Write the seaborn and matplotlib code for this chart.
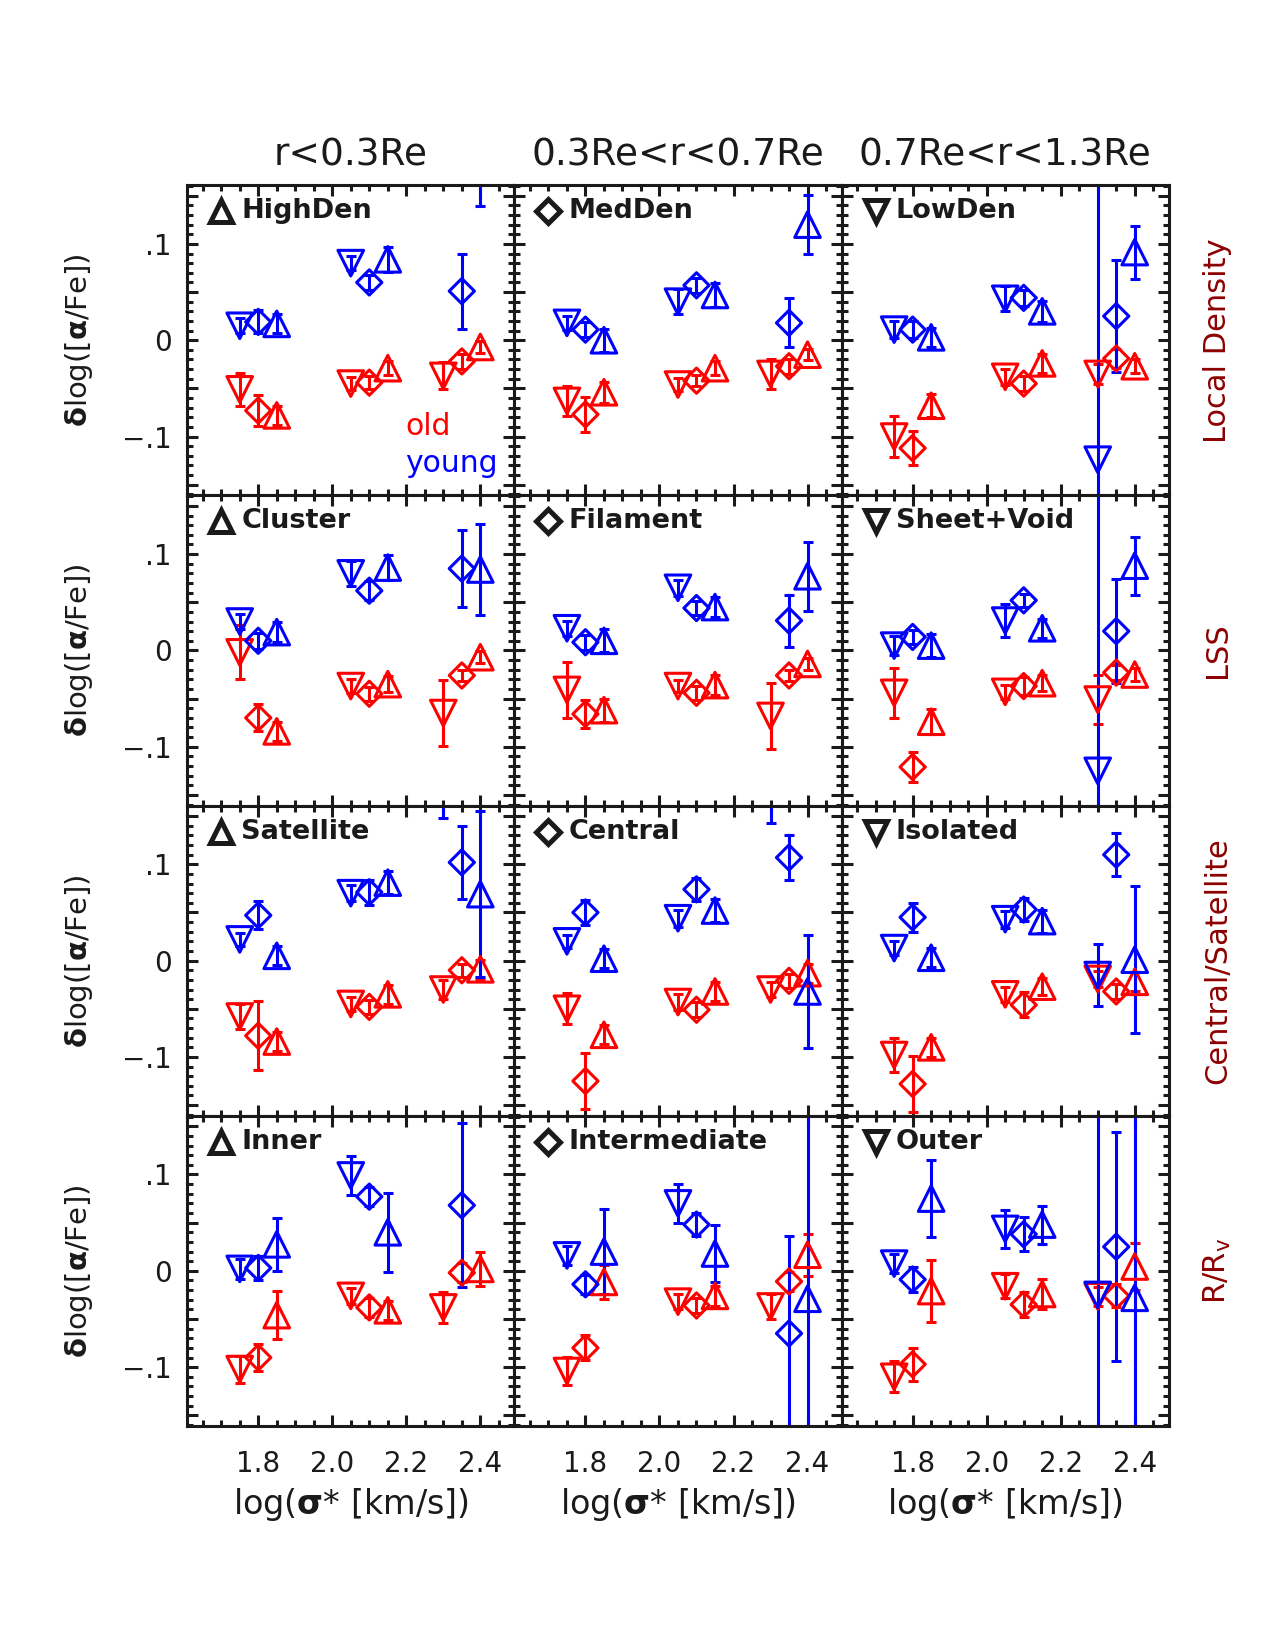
import numpy as np
import matplotlib
matplotlib.use("Agg")
import matplotlib.pyplot as plt
import seaborn as sns
from matplotlib.ticker import MultipleLocator, FuncFormatter

# ---------------- data ----------------
sigma_bins = [1.80, 2.10, 2.35]
marker_offsets = [-0.05, 0.0, 0.05]          # down-triangle, diamond, up-triangle
col_titles = ["r<0.3Re", "0.3Re<r<0.7Re", "0.7Re<r<1.3Re"]
row_titles = ["Local Density", "LSS", "Central/Satellite", r"R/R$_\mathregular{v}$"]
panel_labels = [["HighDen", "MedDen", "LowDen"],
                ["Cluster", "Filament", "Sheet+Void"],
                ["Satellite", "Central", "Isolated"],
                ["Inner", "Intermediate", "Outer"]]
nan = np.nan

# each array: [column][marker(down, diamond, up)][sigma bin]
density_old = [
    [[-0.051, -0.045, -0.037], [-0.073, -0.044, -0.022], [-0.078, -0.029, -0.007]],
    [[-0.063, -0.046, -0.035], [-0.077, -0.042, -0.027], [-0.054, -0.029, -0.015]],
    [[-0.100, -0.038, -0.035], [-0.112, -0.045, -0.019], [-0.068, -0.024, -0.027]]]
density_old_err = [
    [[0.0175, 0.007, 0.014], [0.016, 0.007, 0.008], [0.010, 0.007, 0.006]],
    [[0.016, 0.007, 0.016], [0.018, 0.006, 0.008], [0.011, 0.007, 0.006]],
    [[0.021, 0.008, 0.010], [0.018, 0.008, 0.010], [0.012, 0.010, 0.007]]]
density_young = [
    [[0.015, 0.080, nan], [0.019, 0.060, 0.051], [0.017, 0.084, 0.185]],
    [[0.018, 0.040, nan], [0.011, 0.057, 0.018], [0.000, 0.047, 0.120]],
    [[0.011, 0.043, -0.124], [0.011, 0.044, 0.025], [0.003, 0.030, 0.0915]]]
density_young_err = [
    [[0.008, 0.007, nan], [0.012, 0.008, 0.039], [0.010, 0.013, 0.046]],
    [[0.007, 0.013, nan], [0.008, 0.008, 0.0255], [0.012, 0.012, 0.031]],
    [[0.009, 0.013, 0.5], [0.009, 0.008, 0.058], [0.010, 0.011, 0.0275]]]

lss_old = [
    [[-0.002, -0.037, -0.065], [-0.070, -0.045, -0.026], [-0.084, -0.035, -0.007]],
    [[-0.041, -0.037, -0.068], [-0.066, -0.044, -0.026], [-0.062, -0.036, -0.014]],
    [[-0.044, -0.043, -0.051], [-0.121, -0.037, -0.023], [-0.074, -0.034, -0.025]]]
lss_old_err = [
    [[0.028, 0.007, 0.034], [0.014, 0.007, 0.006], [0.010, 0.008, 0.006]],
    [[0.029, 0.006, 0.034], [0.015, 0.007, 0.006], [0.012, 0.010, 0.006]],
    [[0.026, 0.007, 0.025], [0.016, 0.009, 0.008], [0.013, 0.008, 0.007]]]
lss_young = [
    [[0.030, 0.080, nan], [0.010, 0.062, 0.085], [0.019, 0.086, 0.084]],
    [[0.023, 0.065, nan], [0.0085, 0.044, 0.031], [0.010, 0.045, 0.077]],
    [[0.005, 0.031, -0.125], [0.014, 0.052, 0.020], [0.005, 0.023, 0.088]]]
lss_young_err = [
    [[0.008, 0.013, nan], [0.008, 0.010, 0.040], [0.010, 0.013, 0.047]],
    [[0.008, 0.008, nan], [0.008, 0.007, 0.027], [0.012, 0.010, 0.036]],
    [[0.010, 0.017, 0.5], [0.007, 0.007, 0.054], [0.012, 0.010, 0.030]]]

censat_old = [
    [[-0.058, -0.045, -0.030], [-0.078, -0.048, -0.010], [-0.084, -0.035, -0.009]],
    [[-0.050, -0.043, -0.030], [-0.125, -0.051, -0.021], [-0.077, -0.032, -0.013]],
    [[-0.098, -0.035, -0.019], [-0.128, -0.046, -0.032], [-0.090, -0.027, -0.022]]]
censat_old_err = [
    [[0.013, 0.007, 0.010], [0.036, 0.007, 0.007], [0.010, 0.010, 0.010]],
    [[0.016, 0.008, 0.008], [0.029, 0.008, 0.007], [0.010, 0.010, 0.010]],
    [[0.0175, 0.008, 0.008], [0.029, 0.013, 0.008], [0.010, 0.009, 0.010]]]
censat_young = [
    [[0.022, 0.070, 0.200], [0.047, 0.071, 0.102], [0.005, 0.081, 0.069]],
    [[0.020, 0.044, 0.190], [0.050, 0.074, 0.107], [0.002, 0.052, -0.032]],
    [[0.013, 0.043, -0.015], [0.045, 0.053, 0.110], [0.003, 0.041, 0.001]]]
censat_young_err = [
    [[0.007, 0.008, 0.052], [0.0145, 0.013, 0.038], [0.010, 0.012, 0.086]],
    [[0.007, 0.009, 0.047], [0.013, 0.012, 0.023], [0.010, 0.012, 0.059]],
    [[0.007, 0.009, 0.032], [0.015, 0.012, 0.0225], [0.010, 0.012, 0.0765]]]

rrv_old = [
    [[-0.102, -0.026, -0.038], [-0.090, -0.038, -0.002], [-0.046, -0.041, 0.002]],
    [[-0.104, -0.032, -0.037], [-0.080, -0.036, -0.011], [-0.0115, -0.026, 0.0167]],
    [[-0.110, -0.016, -0.0265], [-0.097, -0.035, -0.026], [-0.021, -0.024, 0.0045]]]
rrv_old_err = [
    [[0.014, 0.008, 0.016], [0.014, 0.010, 0.010], [0.025, 0.010, 0.0175]],
    [[0.015, 0.008, 0.0125], [0.013, 0.008, 0.010], [0.018, 0.010, 0.022]],
    [[0.016, 0.0125, 0.010], [0.017, 0.013, 0.012], [0.032, 0.016, 0.024]]]
rrv_young = [
    [[0.002, 0.099, nan], [0.003, 0.077, 0.068], [0.0275, 0.040, nan]],
    [[0.016, 0.070, nan], [-0.014, 0.048, -0.065], [0.020, 0.018, -0.029]],
    [[0.0075, 0.0435, -0.025], [-0.009, 0.038, 0.025], [0.075, 0.048, -0.028]]]
rrv_young_err = [
    [[0.010, 0.020, nan], [0.012, 0.010, 0.085], [0.0275, 0.041, nan]],
    [[0.010, 0.020, nan], [0.010, 0.012, 0.101], [0.044, 0.030, 0.4]],
    [[0.010, 0.0195, 0.5], [0.013, 0.0175, 0.119], [0.040, 0.0197, 0.5]]]

rows_old = [density_old, lss_old, censat_old, rrv_old]
rows_old_err = [density_old_err, lss_old_err, censat_old_err, rrv_old_err]
rows_young = [density_young, lss_young, censat_young, rrv_young]
rows_young_err = [density_young_err, lss_young_err, censat_young_err, rrv_young_err]

# ---------------- style ----------------
sns.set_theme(style="ticks")
plt.rcParams["font.family"] = ["DejaVu Sans"]
plt.rcParams["mathtext.default"] = "regular"
for key in ["text.color", "axes.labelcolor", "xtick.color", "ytick.color", "axes.edgecolor"]:
    plt.rcParams[key] = "black"

markers = ["v", "D", "^"]
marker_sizes = [340, 165, 340]
label_markers = ["^", "D", "v"]
label_ms = [16.5, 12, 16.5]
OLD, YOUNG = "#ff0000", "#0000ff"
DARKRED = "#8c0000"
LW = 2.2

fig, axes = plt.subplots(4, 3, figsize=(12.75, 16.5), dpi=100, sharex=True, sharey=True)
L, R, T, B = 0.1468, 0.9167, 0.8878, 0.1358
fig.subplots_adjust(left=L, right=R, top=T, bottom=B, wspace=0, hspace=0)

def ylab(v, pos):
    if abs(v - 0.1) < 1e-6:
        return ".1"
    if abs(v) < 1e-6:
        return "0"
    if abs(v + 0.1) < 1e-6:
        return "\u2212.1"
    return ""

for r in range(4):
    for c in range(3):
        ax = axes[r, c]
        for age, vals, errs, col in [("old", rows_old[r][c], rows_old_err[r][c], OLD),
                                     ("young", rows_young[r][c], rows_young_err[r][c], YOUNG)]:
            for k in range(3):
                xs = [s + marker_offsets[k] for s in sigma_bins]
                ax.errorbar(xs, vals[k], yerr=errs[k], fmt="none", ecolor=col,
                            elinewidth=LW, capsize=3.6, capthick=LW, zorder=2)
                sns.scatterplot(x=xs, y=vals[k], marker=markers[k], s=marker_sizes[k],
                                color=col, facecolor="none", edgecolor=col,
                                linewidth=LW, ax=ax, legend=False, zorder=3)
                coll = ax.collections[-1]
                coll.set_facecolor("none")
                coll.set_edgecolor(col)
        ax.set_xlim(1.608, 2.492)
        ax.set_ylim(-0.161, 0.161)
        ax.xaxis.set_major_locator(MultipleLocator(0.2))
        ax.xaxis.set_minor_locator(MultipleLocator(0.05))
        ax.yaxis.set_major_locator(MultipleLocator(0.05))
        ax.yaxis.set_minor_locator(MultipleLocator(0.01))
        ax.yaxis.set_major_formatter(FuncFormatter(ylab))
        ax.xaxis.set_major_formatter(FuncFormatter(lambda v, p: f"{v:.1f}"))
        ax.tick_params(which="both", direction="in", top=True, right=True,
                       width=LW, color="k", labelcolor="k", labelsize=20)
        ax.tick_params(which="major", length=8)
        ax.tick_params(which="minor", length=4.5)
        ax.tick_params(axis="x", pad=17)
        ax.tick_params(axis="y", pad=11)
        for sp in ax.spines.values():
            sp.set_linewidth(LW)
            sp.set_color("k")
        ax.set_xlabel("")
        ax.set_ylabel("")
        # panel label
        ax.plot([0.104], [0.916], marker=label_markers[c], ms=label_ms[c], mfc="none",
                mec="k", mew=3.6, transform=ax.transAxes, clip_on=False, zorder=5)
        ax.text(0.165, 0.916, panel_labels[r][c], transform=ax.transAxes,
                ha="left", va="center", fontsize=19.5, fontweight="bold", color="k")

axes[0, 0].text(0.667, 0.223, "old", transform=axes[0, 0].transAxes, ha="left",
                va="center", fontsize=21.5, color=OLD)
axes[0, 0].text(0.667, 0.103, "young", transform=axes[0, 0].transAxes, ha="left",
                va="center", fontsize=21.5, color=YOUNG)

w = (R - L) / 3
h = (T - B) / 4
for c in range(3):
    xc = L + (c + 0.5) * w
    fig.text(xc, 0.9055, col_titles[c], ha="center", va="center", fontsize=27, color="k")
    fig.text(xc, 0.088, r"log($\mathbf{\sigma}$* [km/s])", ha="center", va="center",
             fontsize=24, color="k")
for r in range(4):
    yc = T - (r + 0.5) * h
    fig.text(0.062, yc, r"$\mathbf{\delta}$log([$\mathbf{\alpha}$/Fe])", rotation=90,
             ha="center", va="center", fontsize=21, color="k")
    fig.text(0.955, yc, row_titles[r], rotation=90, ha="center", va="center",
             fontsize=22, color=DARKRED)

fig.savefig("out.png", dpi=100)
